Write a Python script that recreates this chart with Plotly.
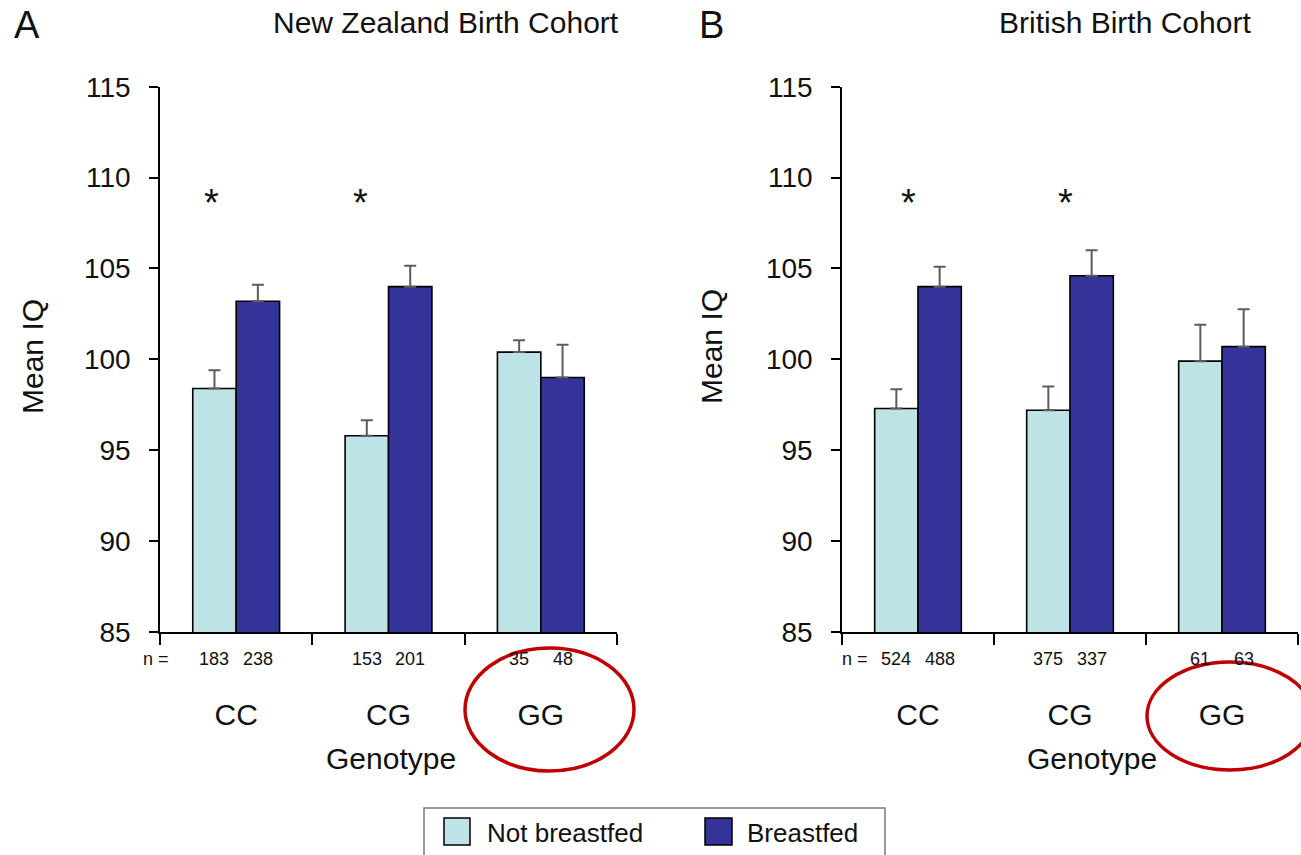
import plotly.graph_objects as go

# Genotype groups and mean IQ (with standard errors) by breastfeeding status
genotypes = ["CC", "CG", "GG"]

nz_not_bf = [98.4, 95.8, 100.4]
nz_not_bf_se = [1.0, 0.85, 0.65]
nz_bf = [103.2, 104.0, 99.0]
nz_bf_se = [0.9, 1.15, 1.8]
nz_n_not_bf = [183, 153, 35]
nz_n_bf = [238, 201, 48]

br_not_bf = [97.3, 97.2, 99.9]
br_not_bf_se = [1.05, 1.3, 2.0]
br_bf = [104.0, 104.6, 100.7]
br_bf_se = [1.1, 1.4, 2.05]
br_n_not_bf = [524, 375, 61]
br_n_bf = [488, 337, 63]

significant = ["CC", "CG"]

W, H = 1301, 855
FONT = "Arial, Liberation Sans, sans-serif"
LIGHT = "#BEE3E6"
DARK = "#333399"


def px(x):
    return x / W


def py(y):
    return 1 - y / H


fig = go.Figure()

panels = [
    ("x", "y", nz_not_bf, nz_not_bf_se, nz_bf, nz_bf_se),
    ("x2", "y2", br_not_bf, br_not_bf_se, br_bf, br_bf_se),
]
for xa, ya, nb, nb_se, bf, bf_se in panels:
    for vals, errs, color, name in [(nb, nb_se, LIGHT, "Not breastfed"),
                                    (bf, bf_se, DARK, "Breastfed")]:
        fig.add_trace(go.Bar(
            x=genotypes, y=vals, name=name, xaxis=xa, yaxis=ya,
            marker=dict(color=color, line=dict(color="black", width=1.6)),
            error_y=dict(type="data", symmetric=False, array=errs,
                         arrayminus=[0] * len(errs),
                         color="#5c5c5c", thickness=2, width=6),
            showlegend=False,
        ))

yaxis_common = dict(
    range=[85, 115], dtick=5, showgrid=False, zeroline=False,
    showline=True, linecolor="black", linewidth=1.5,
    ticks="outside", ticklen=9, tickwidth=1.5, tickcolor="black",
    tickfont=dict(family=FONT, size=28, color="#111"),
    ticklabelstandoff=13, automargin=False,
    domain=[py(632), py(86.7)],
)
xaxis_common = dict(
    type="category", showgrid=False, zeroline=False,
    showline=True, linecolor="black", linewidth=1.5,
    ticks="outside", ticklen=11, tickwidth=1.5, tickcolor="black",
    tickson="boundaries", automargin=False,
    tickfont=dict(family=FONT, size=30, color="#111"),
    ticklabelstandoff=55,
)

fig.update_layout(
    template="none",
    width=W, height=H, autosize=False,
    margin=dict(l=0, r=0, t=0, b=0, pad=0, autoexpand=False),
    paper_bgcolor="white", plot_bgcolor="white",
    showlegend=False,
    barmode="group", bargap=0.43, bargroupgap=0,
    xaxis=dict(xaxis_common, domain=[px(160), px(617)], anchor="y"),
    yaxis=dict(yaxis_common, anchor="x"),
    xaxis2=dict(xaxis_common, domain=[px(842), px(1298)], anchor="y2"),
    yaxis2=dict(yaxis_common, anchor="x2"),
)

annotations = []


def text(x, y, s, size, **kw):
    annotations.append(dict(
        x=px(x), y=py(y), xref="paper", yref="paper", text=s,
        showarrow=False, xanchor=kw.pop("xanchor", "center"),
        yanchor=kw.pop("yanchor", "middle"),
        font=dict(family=FONT, size=size, color="#111"), **kw))


# Panel letters and titles
text(27, 25, "A", 38)
text(711, 25, "B", 38)
text(446, 22, "New Zealand Birth Cohort", 30)
text(1125, 22, "British Birth Cohort", 30)

# Y axis titles
text(33, 357, "Mean IQ", 30, textangle=-90)
text(711, 347, "Mean IQ", 30, textangle=-90)

# X axis titles
text(391, 758, "Genotype", 30)
text(1092, 758, "Genotype", 30)

# Sample sizes under each bar
half_bar = 21.75
for xa, n_nb, n_bf, nx in [("x", nz_n_not_bf, nz_n_bf, 156),
                           ("x2", br_n_not_bf, br_n_bf, 855)]:
    text(nx, 659, "n =", 18)
    for g, a, b in zip(genotypes, n_nb, n_bf):
        for n, shift in [(a, -half_bar), (b, half_bar)]:
            annotations.append(dict(
                x=g, xref=xa, y=py(659), yref="paper", text=str(n),
                xshift=shift, showarrow=False, yanchor="middle",
                font=dict(family=FONT, size=18, color="#111")))

# Significance markers
star_shift = {"x": [-25, -28], "x2": [-10, -5]}
for xa in ["x", "x2"]:
    for g, shift in zip(significant, star_shift[xa]):
        annotations.append(dict(
            x=g, xref=xa, y=py(203), yref="paper", text="*",
            xshift=shift, showarrow=False, yanchor="middle",
            font=dict(family=FONT, size=38, color="#111")))

# Legend box
shapes = [
    dict(type="rect", xref="paper", yref="paper",
         x0=px(424), x1=px(885), y0=py(870), y1=py(808),
         line=dict(color="#7a7a7a", width=1.5), fillcolor="white",
         layer="below"),
    dict(type="rect", xref="paper", yref="paper",
         x0=px(444), x1=px(470), y0=py(845), y1=py(818),
         line=dict(color="black", width=1.5), fillcolor=LIGHT),
    dict(type="rect", xref="paper", yref="paper",
         x0=px(705), x1=px(732), y0=py(845), y1=py(818),
         line=dict(color="black", width=1.5), fillcolor=DARK),
]
text(485, 833, "Not breastfed", 26, xanchor="left")
text(745, 833, "Breastfed", 26, xanchor="left")

# Highlight rings around the GG group
for x0, x1, y0, y1 in [(465, 634, 648, 771), (1147, 1313, 662, 770)]:
    shapes.append(dict(type="circle", xref="paper", yref="paper",
                       x0=px(x0), x1=px(x1), y0=py(y1), y1=py(y0),
                       line=dict(color="#C00000", width=3.5)))

fig.update_layout(annotations=annotations, shapes=shapes)

fig.write_html("out.html")
